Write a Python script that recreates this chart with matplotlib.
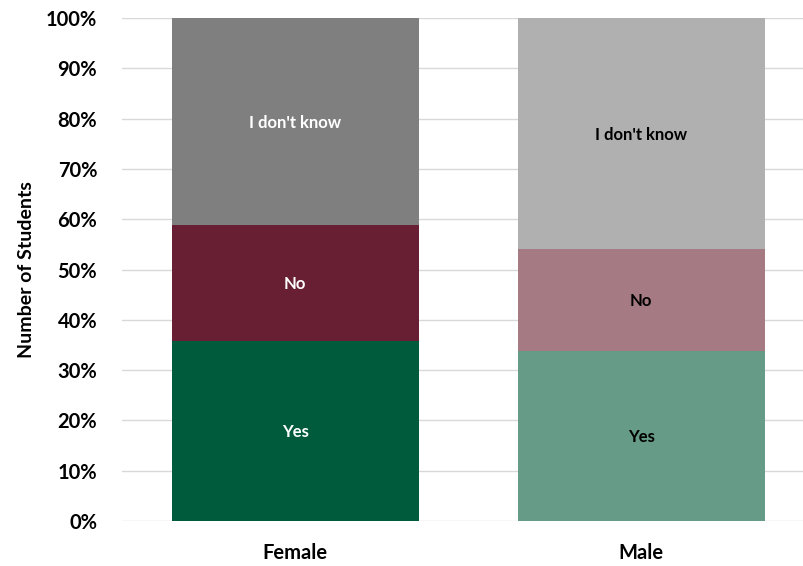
import matplotlib.pyplot as plt
import numpy as np

# data (percent of students)
genders = ["Female", "Male"]
answers = ["Yes", "No", "I don't know"]
yes = [35.8, 33.8]
no = [23.1, 20.3]
dont_know = [41.1, 45.9]

# colours per answer, per gender
colors = {
    "Yes": ["#005A3C", "#669B88"],
    "No": ["#681F33", "#A67A82"],
    "I don't know": ["#7F7F7F", "#B0B0B0"],
}
text_colors = ["white", "black"]

plt.rcParams['font.family'] = ['Lato', 'DejaVu Sans']

fig = plt.figure(figsize=(8.04, 5.66), dpi=100)
ax = fig.add_axes([0.152, 0.0795, 0.848, 0.8887])

x = np.arange(len(genders))
width = 0.714
bottom = np.zeros(len(genders))
for name, vals in zip(answers, [yes, no, dont_know]):
    ax.bar(x, vals, width, bottom=bottom, color=colors[name], zorder=2)
    for i in range(len(genders)):
        ax.text(x[i], bottom[i] + vals[i] / 2, name, ha="center", va="center_baseline",
                color=text_colors[i], fontsize=12, fontweight="bold", zorder=3)
    bottom += np.array(vals)

ax.set_ylim(0, 100)
ax.set_xlim(-0.5, 1.471)
ax.set_yticks(np.arange(0, 101, 10))
ax.set_yticklabels([f"{v}%" for v in range(0, 101, 10)], fontsize=14.5, fontweight="bold")
ax.set_xticks(x)
ax.set_xticklabels(genders, fontsize=14.5, fontweight="bold")
ax.grid(axis="y", color="#D9D9D9", linewidth=1, zorder=0)
for s in ax.spines.values():
    s.set_visible(False)
ax.tick_params(axis="y", length=0, pad=18)
ax.tick_params(axis="x", length=0, pad=16)
ax.set_ylabel("Number of Students", fontsize=14, fontweight="bold", labelpad=8)

fig.savefig("out.png", dpi=100)
